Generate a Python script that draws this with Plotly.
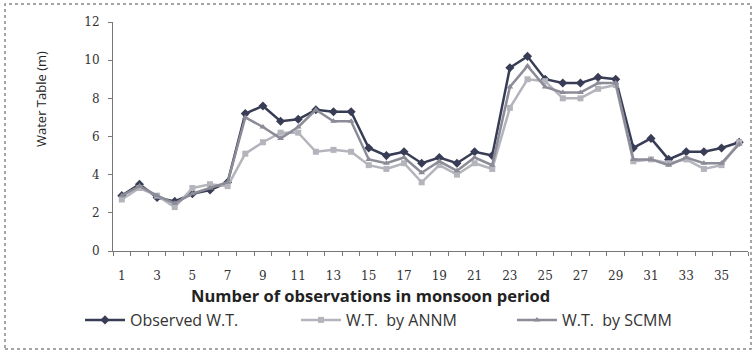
import plotly.graph_objects as go

obs_x = list(range(1, 37))
observed = [2.9, 3.5, 2.8, 2.6, 3.0, 3.2, 3.6, 7.2, 7.6, 6.8, 6.9, 7.4, 7.3, 7.3,
            5.4, 5.0, 5.2, 4.6, 4.9, 4.6, 5.2, 5.0, 9.6, 10.2, 9.0, 8.8, 8.8, 9.1,
            9.0, 5.4, 5.9, 4.8, 5.2, 5.2, 5.4, 5.7]
annm = [2.7, 3.3, 2.9, 2.3, 3.3, 3.5, 3.4, 5.1, 5.7, 6.2, 6.2, 5.2, 5.3, 5.2,
        4.5, 4.3, 4.6, 3.6, 4.5, 4.0, 4.6, 4.3, 7.5, 9.0, 8.9, 8.0, 8.0, 8.5,
        8.7, 4.7, 4.8, 4.6, 4.8, 4.3, 4.5, 5.7]
scmm = [2.9, 3.4, 2.9, 2.5, 3.0, 3.3, 3.6, 7.0, 6.5, 5.9, 6.5, 7.4, 6.8, 6.8,
        4.8, 4.6, 4.9, 4.1, 4.7, 4.2, 4.9, 4.5, 8.6, 9.7, 8.6, 8.3, 8.3, 8.8,
        8.8, 4.8, 4.8, 4.5, 4.9, 4.6, 4.6, 5.6]
tick_labels = [str(i) for i in range(1, 36, 2)]
names = ["Observed W.T.", "W.T.  by ANNM", "W.T.  by SCMM"]
x_title = "Number of observations in monsoon period"
y_title = "Water Table (m)"

fig = go.Figure()
fig.add_trace(go.Scatter(x=obs_x, y=observed, name=names[0], mode="lines+markers",
                         line=dict(color="#383d55", width=2.5),
                         marker=dict(symbol="diamond", size=7, color="#383d55")))
fig.add_trace(go.Scatter(x=obs_x, y=annm, name=names[1], mode="lines+markers",
                         line=dict(color="#b4b4bc", width=2.5),
                         marker=dict(symbol="square", size=6, color="#b4b4bc")))
fig.add_trace(go.Scatter(x=obs_x, y=scmm, name=names[2], mode="lines+markers",
                         line=dict(color="#8c8c98", width=2.5),
                         marker=dict(symbol="triangle-up", size=6, color="#8c8c98")))

L, R, T, B = 113, 7, 22, 104
W, H = 755, 355
pw, ph = W - L - R, H - T - B
def px(x): return (x - L) / pw
def py(y): return (H - B - y) / ph

fig.update_layout(
    width=W, height=H,
    margin=dict(l=L, r=R, t=T, b=B),
    paper_bgcolor="white", plot_bgcolor="white",
    font=dict(family="DejaVu Serif", color="#333333"),
    showlegend=True,
    legend=dict(orientation="h", x=px(80), xanchor="left", y=py(320), yanchor="middle",
                font=dict(size=16, family="Open Sans", color="#333333"),
                itemwidth=40, entrywidth=161, entrywidthmode="pixels",
                tracegroupgap=0, bgcolor="rgba(0,0,0,0)"),
    xaxis=dict(range=[0.5, 36.5], tickmode="array", tickvals=list(range(1, 36, 2)),
               ticktext=tick_labels, showgrid=False, zeroline=False,
               showline=True, linecolor="#777777", linewidth=1,
               ticks="", ticklabelstandoff=14,
               tickfont=dict(size=12, family="DejaVu Serif", color="#333333"),
               minor=dict(tickmode="linear", tick0=0.5, dtick=1, ticks="outside",
                          ticklen=4, tickcolor="#777777", showgrid=False)),
    yaxis=dict(range=[0, 12], dtick=2, showgrid=False, zeroline=False,
               showline=True, linecolor="#777777", linewidth=1,
               ticks="outside", ticklen=4, tickcolor="#777777", ticklabelstandoff=6,
               tickfont=dict(size=12, family="DejaVu Serif", color="#333333")),
    annotations=[
        dict(text="<b>" + x_title + "</b>", xref="paper", yref="paper",
             x=px(370), y=py(295), xanchor="center", yanchor="middle", showarrow=False,
             font=dict(size=16.5, family="Open Sans", color="#222222")),
        dict(text=y_title, xref="paper", yref="paper", textangle=-90,
             x=px(41), y=py(99), xanchor="center", yanchor="middle", showarrow=False,
             font=dict(size=13, family="Open Sans", color="#222222")),
    ],
    shapes=[dict(type="rect", xref="paper", yref="paper",
                 x0=px(5), x1=px(751), y0=py(349), y1=py(4),
                 line=dict(color="#888888", width=1.5, dash="dot"))],
)

fig.write_html("out.html")
